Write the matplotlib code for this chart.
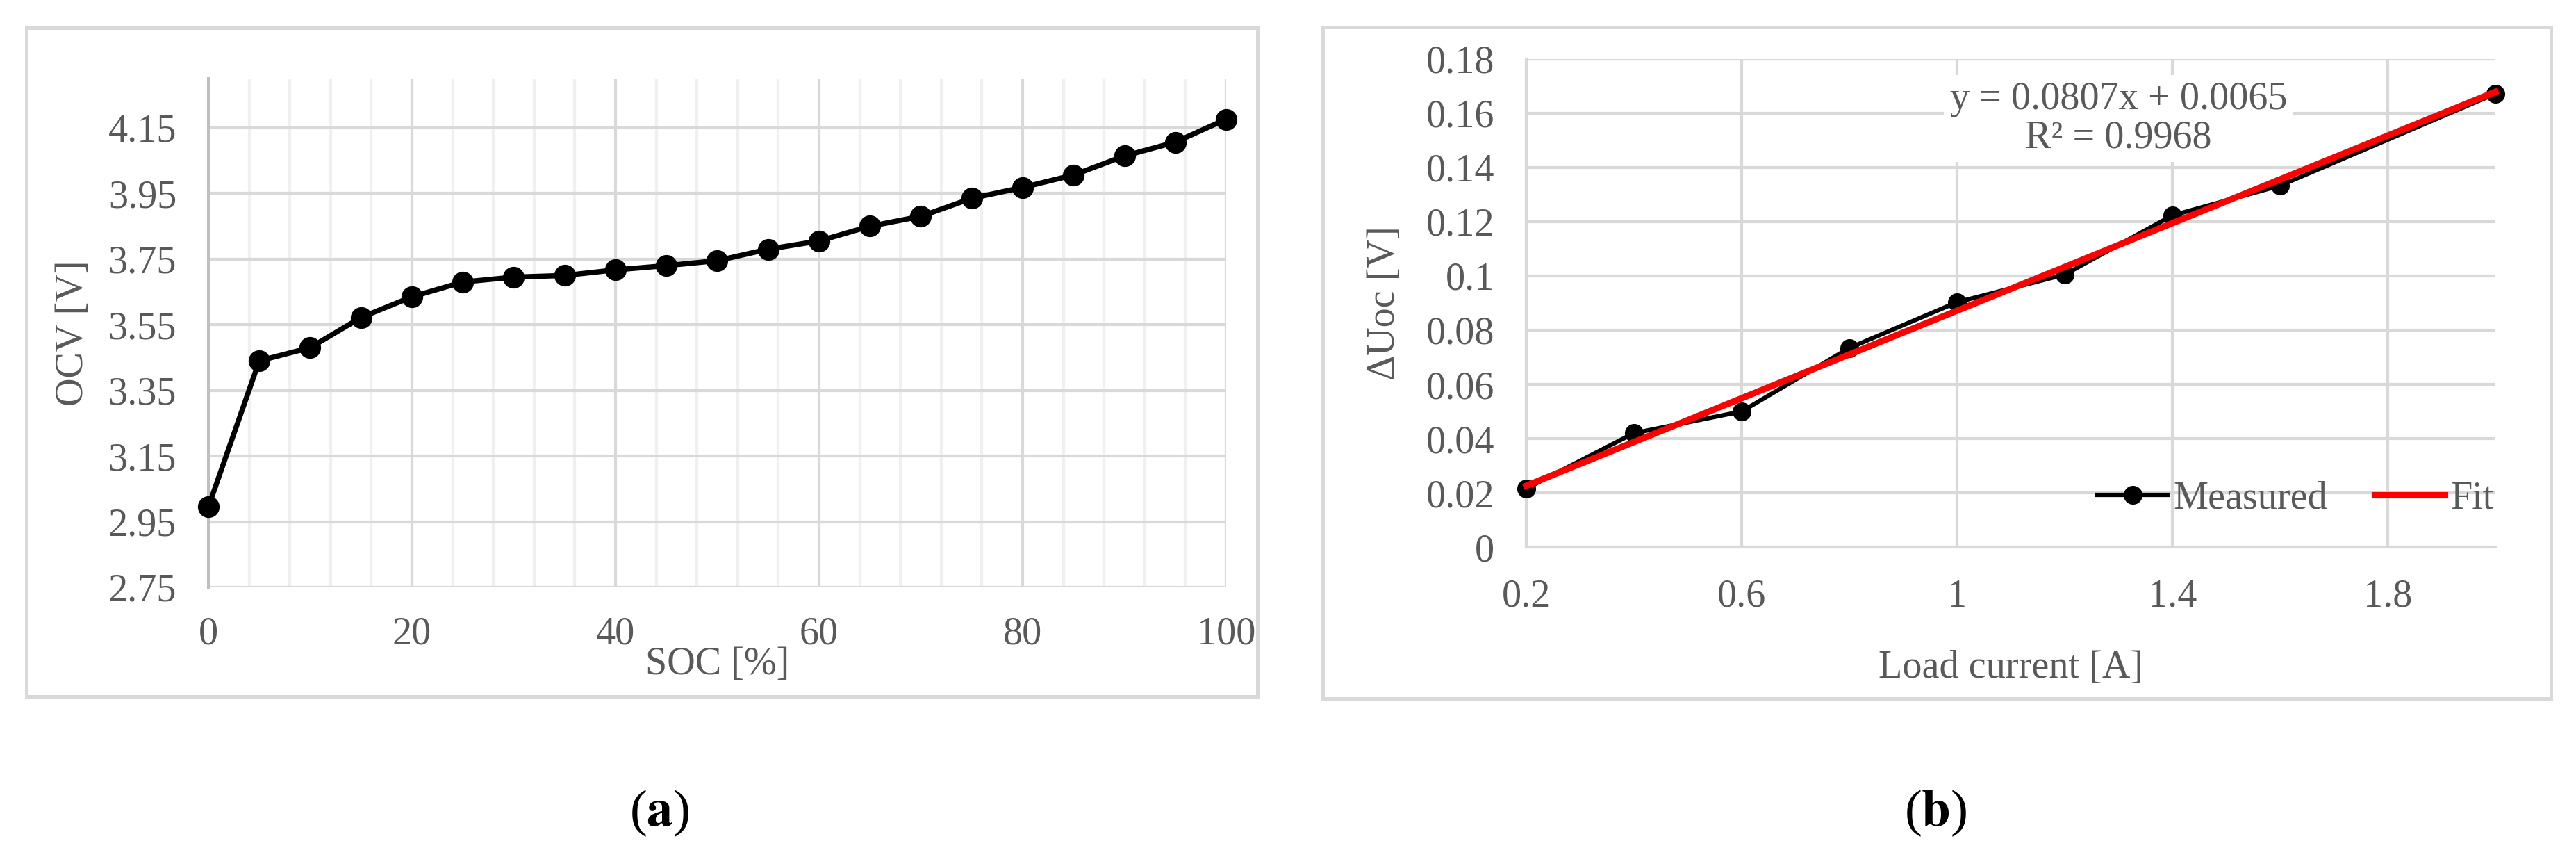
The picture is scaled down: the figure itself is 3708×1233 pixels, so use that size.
import matplotlib
matplotlib.use('Agg')
import matplotlib.pyplot as plt
from matplotlib.patches import Rectangle
from matplotlib.ticker import MultipleLocator

plt.rcParams['font.family'] = ['Liberation Serif', 'DejaVu Sans']
plt.rcParams['mathtext.fontset'] = 'stix'

# (a) OCV vs SOC
soc = [0, 5, 10, 15, 20, 25, 30, 35, 40, 45, 50,
       55, 60, 65, 70, 75, 80, 85, 90, 95, 100]
ocv = [2.995, 3.44, 3.48, 3.572, 3.635, 3.68, 3.695, 3.70, 3.717, 3.73, 3.745,
       3.78, 3.805, 3.85, 3.88, 3.935, 3.968, 4.006, 4.064, 4.106, 4.176]

# (b) delta Uoc vs load current
current = [0.2, 0.4, 0.6, 0.8, 1.0, 1.2, 1.4, 1.6, 2.0]
duoc = [0.0216, 0.042, 0.050, 0.0734, 0.0903, 0.1005, 0.1223, 0.1333, 0.1672]
fit_x = [0.2, 2.0]
fit_y = [0.0226, 0.1679]
fit_text = 'y = 0.0807x + 0.0065\nR² = 0.9968'

gray_txt = '#595959'
grid_major = '#d9d9d9'
grid_minor = '#f0f0f0'
fs = 13.5

fig = plt.figure(figsize=(12.36, 4.11), dpi=300)

# light gray frames around each chart
fig.patches.append(Rectangle((0.0103, 0.1873), 0.4779, 0.7802, transform=fig.transFigure,
                             fill=False, edgecolor='#d9d9d9', linewidth=1.2))
fig.patches.append(Rectangle((0.5135, 0.1849), 0.4768, 0.7835, transform=fig.transFigure,
                             fill=False, edgecolor='#d9d9d9', linewidth=1.2))

# ---------------- left chart ----------------
ax1 = fig.add_axes([0.0809, 0.3147, 0.3951, 0.5937])
ax1.set_xlim(0, 100)
ax1.set_ylim(2.75, 4.30)
ax1.xaxis.set_major_locator(MultipleLocator(20))
ax1.xaxis.set_minor_locator(MultipleLocator(4))
ax1.set_yticks([2.75, 2.95, 3.15, 3.35, 3.55, 3.75, 3.95, 4.15])
ax1.set_yticklabels(['2.75', '2.95', '3.15', '3.35', '3.55', '3.75', '3.95', '4.15'])
ax1.grid(which='major', axis='both', color=grid_major, linewidth=1.0)
ax1.grid(which='minor', axis='x', color=grid_minor, linewidth=1.0)
ax1.set_axisbelow(True)
for s in ['top', 'right', 'bottom']:
    ax1.spines[s].set_visible(False)
ax1.spines['left'].set_color('#bfbfbf')
ax1.spines['left'].set_linewidth(1.2)
ax1.tick_params(which='both', length=0, labelsize=fs, labelcolor=gray_txt)
ax1.tick_params(axis='x', pad=10)
ax1.tick_params(axis='y', pad=11)

ax1.plot(soc, ocv, color='black', linewidth=1.8, marker='o', markersize=6.5,
         clip_on=False, zorder=3)
ax1.set_xlabel('SOC [%]', fontsize=fs, color=gray_txt, labelpad=-2)
ax1.set_ylabel('OCV [V]', fontsize=fs, color=gray_txt, labelpad=6)

# ---------------- right chart ----------------
ax2 = fig.add_axes([0.5925, 0.3617, 0.3762, 0.5694])
ax2.set_xlim(0.2, 2.0)
ax2.set_ylim(0, 0.18)
ax2.set_xticks([0.2, 0.6, 1.0, 1.4, 1.8])
ax2.set_xticklabels(['0.2', '0.6', '1', '1.4', '1.8'])
ax2.set_yticks([0, 0.02, 0.04, 0.06, 0.08, 0.1, 0.12, 0.14, 0.16, 0.18])
ax2.set_yticklabels(['0', '0.02', '0.04', '0.06', '0.08', '0.1',
                     '0.12', '0.14', '0.16', '0.18'])
ax2.grid(True, color=grid_major, linewidth=1.0)
ax2.set_axisbelow(True)
for s in ['top', 'right']:
    ax2.spines[s].set_visible(False)
for s in ['left', 'bottom']:
    ax2.spines[s].set_color(grid_major)
    ax2.spines[s].set_linewidth(1.0)
ax2.tick_params(length=0, labelsize=fs, labelcolor=gray_txt)
ax2.tick_params(axis='x', pad=11)
ax2.tick_params(axis='y', pad=11)

ax2.plot(current, duoc, color='black', linewidth=1.5, marker='o', markersize=5.5,
         clip_on=False, zorder=3, label='Measured')
ax2.plot(fit_x, fit_y, color='#ff0000', linewidth=2.2, clip_on=False,
         zorder=4, label='Fit')

ax2.text(1.30, 0.158, fit_text, ha='center', va='center', fontsize=fs,
         color=gray_txt, linespacing=1.1, zorder=2,
         bbox=dict(facecolor='white', edgecolor='none', pad=2))

ax2.legend(loc='lower right', bbox_to_anchor=(1.035, -0.01), ncol=2,
           frameon=False, fontsize=fs, labelcolor=gray_txt,
           handlelength=1.8, handletextpad=0.15, columnspacing=1.2)

ax2.set_xlabel('Load current [A]', fontsize=fs, color=gray_txt, labelpad=12)
ax2.set_ylabel('ΔUoc [V]', fontsize=fs, color=gray_txt, labelpad=8)

# panel captions
fig.text(0.256, 0.051, r'($\mathbf{a}$)', ha='center', va='center', fontsize=18)
fig.text(0.7514, 0.051, r'($\mathbf{b}$)', ha='center', va='center', fontsize=18)

fig.savefig('out.png', dpi=300, facecolor='white')
